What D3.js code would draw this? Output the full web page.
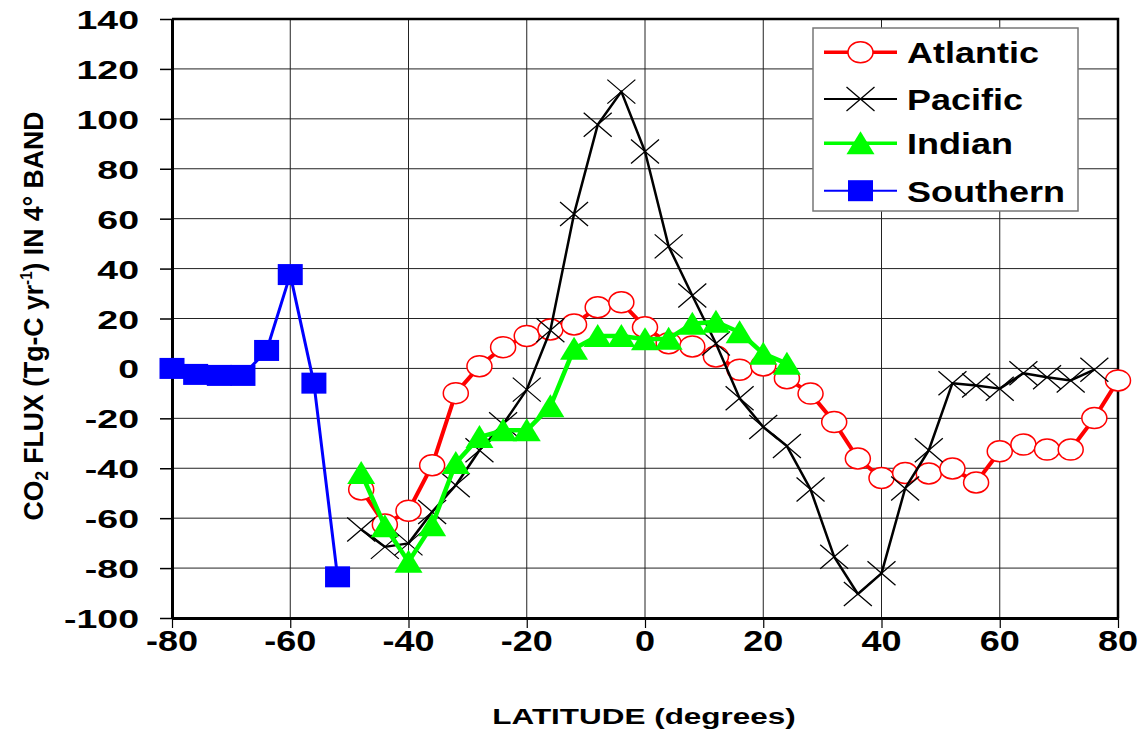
<!DOCTYPE html>
<html>
<head>
<meta charset="utf-8">
<script src="https://cdn.jsdelivr.net/npm/d3@7"></script>
<style>
  body { margin: 0; background: #fff; }
  svg text { font-family: "Liberation Sans", Arial, sans-serif; font-weight: bold; fill: #000; }
</style>
</head>
<body>
<svg id="chart" width="1145" height="736"></svg>
<script>
// values
let atlanticLat = [-48,-44,-40,-36,-32,-28,-24,-20,-16,-12,-8,-4,0,4,8,12,16,20,24,28,32,36,40,44,48,52,56,60,64,68,72,76,80]
let atlanticFlux = [-48.5,-62.5,-57,-38.8,-9.9,0.9,8.5,13,15.6,17.6,24.5,26.5,16.5,10.1,8.8,4.8,-0.5,1.2,-3.9,-10.1,-21.5,-36.1,-43.9,-41.9,-42.1,-40.1,-45.7,-33.2,-30.5,-32.5,-32.5,-19.9,-4.8]

let pacificLat = [-48,-44,-40,-36,-32,-28,-24,-20,-16,-12,-8,-4,0,4,8,12,16,20,24,28,32,36,40,44,48,52,56,60,64,68,72,76]
let pacificFlux = [-64.5,-71.5,-70.1,-57.5,-46.8,-32.8,-22.4,-8.5,15.3,61.9,97.6,110.9,86.9,48.9,29.2,10,-12,-23.5,-31.1,-48.5,-75.5,-90.4,-82.1,-48.1,-32.8,-5.9,-6.8,-8.1,-1.9,-3.5,-4.8,-0.5]

let indianLat = [-48,-44,-40,-36,-32,-28,-24,-20,-16,-12,-8,-4,0,4,8,12,16,20,24]
let indianFlux = [-41.9,-63.2,-77.5,-62.8,-37.9,-27.5,-24.8,-24.8,-15.2,7.9,13,13,11.7,11.9,17.9,18.7,14.5,5.9,1.9]

let southernLat = [-80,-76,-72,-68,-64,-60,-56,-52]
let southernFlux = [0,-2.4,-2.8,-2.8,7.2,37.6,-5.9,-83.5]

let xTicks = [-80,-60,-40,-20,0,20,40,60,80]
let yTicks = [-100,-80,-60,-40,-20,0,20,40,60,80,100,120,140]

let seriesNames = ["Atlantic", "Pacific", "Indian", "Southern"]


let chart = d3.select("#chart")

let plotLeft = 172, plotRight = 1118, plotTop = 19, plotBottom = 618

let xscale = d3.scaleLinear().domain([-80, 80]).range([plotLeft, plotRight])
let yscale = d3.scaleLinear().domain([-100, 140]).range([plotBottom, plotTop])

// text that is stretched sideways like the original
function label(g, x, y, str, size, sx, anchor) {
    return g.append("text")
        .attr("transform", "translate(" + x + "," + y + ") scale(" + sx + ",1)")
        .attr("text-anchor", anchor)
        .style("font-size", size + "px")
        .text(str)
}

// grid
chart.append("g")
    .selectAll("line").data(yTicks.filter(d => d > -100 && d < 140))
    .enter().append("line")
    .attr("x1", plotLeft).attr("x2", plotRight)
    .attr("y1", d => yscale(d)).attr("y2", d => yscale(d))
    .attr("stroke", "#222").attr("stroke-width", 1)

chart.append("g")
    .selectAll("line").data(xTicks.filter(d => d > -80 && d < 80))
    .enter().append("line")
    .attr("y1", plotTop).attr("y2", plotBottom)
    .attr("x1", d => xscale(d)).attr("x2", d => xscale(d))
    .attr("stroke", "#222").attr("stroke-width", 1)

// frame top / right
chart.append("path")
    .attr("d", "M" + plotLeft + "," + plotTop + "H" + plotRight + "V" + plotBottom)
    .attr("fill", "none").attr("stroke", "#000").attr("stroke-width", 2.5)

// axes
let xAxis = chart.append("g")
    .attr("transform", "translate(0," + plotBottom + ")")
    .call(d3.axisBottom(xscale).tickValues(xTicks).tickSize(10).tickSizeOuter(0).tickFormat(""))
let yAxis = chart.append("g")
    .attr("transform", "translate(" + plotLeft + ",0)")
    .call(d3.axisLeft(yscale).tickValues(yTicks).tickSize(12).tickSizeOuter(0).tickFormat(""))

xAxis.select(".domain").attr("stroke-width", 3)
yAxis.select(".domain").attr("stroke-width", 3)
xAxis.selectAll(".tick line").attr("stroke-width", 1.2)
yAxis.selectAll(".tick line").attr("stroke-width", 1.5)

let labels = chart.append("g")
xTicks.forEach(function (d) {
    label(labels, xscale(d), 651, d, 30, 1.2, "middle")
})
yTicks.forEach(function (d) {
    label(labels, 139, yscale(d) + 10, d, 25, 1.5, "end")
})

label(chart, 644, 724, "LATITUDE (degrees)", 22, 1.43, "middle")

let ytitle = chart.append("text")
    .attr("transform", "translate(43,316) rotate(-90) scale(0.95,1)")
    .attr("text-anchor", "middle")
    .style("font-size", "28px")
ytitle.append("tspan").text("CO")
ytitle.append("tspan").style("font-size", "18px").attr("dy", 5).text("2")
ytitle.append("tspan").attr("dy", -5).text(" FLUX (Tg-C yr")
ytitle.append("tspan").style("font-size", "16px").attr("dy", -11).text("-1")
ytitle.append("tspan").attr("dy", 11).text(") IN 4\u00b0 BAND")

// markers
function drawMarker(g, kind, cx, cy) {
    if (kind == "circle") {
        g.append("ellipse").attr("cx", cx).attr("cy", cy).attr("rx", 12.5).attr("ry", 10.5)
            .attr("fill", "#fff").attr("stroke", "#ff0000").attr("stroke-width", 1.5)
    } else if (kind == "cross") {
        g.append("path")
            .attr("d", "M" + (cx - 14) + "," + (cy - 12) + "L" + (cx + 14) + "," + (cy + 12) +
                "M" + (cx - 14) + "," + (cy + 12) + "L" + (cx + 14) + "," + (cy - 12))
            .attr("stroke", "#000").attr("stroke-width", 1.3).attr("fill", "none")
    } else if (kind == "triangle") {
        g.append("path")
            .attr("d", "M" + cx + "," + (cy - 12) + "L" + (cx + 14) + "," + (cy + 11) + "L" + (cx - 14) + "," + (cy + 11) + "Z")
            .attr("fill", "#00ff00")
    } else {
        g.append("rect").attr("x", cx - 12.5).attr("y", cy - 10.5).attr("width", 25).attr("height", 21)
            .attr("fill", "#0000ff")
    }
}

let series = [
    { lat: atlanticLat, flux: atlanticFlux, color: "#ff0000", width: 4, marker: "circle", lw: 3.5 },
    { lat: pacificLat, flux: pacificFlux, color: "#000000", width: 2.5, marker: "cross", lw: 2 },
    { lat: indianLat, flux: indianFlux, color: "#00ff00", width: 4.5, marker: "triangle", lw: 3.5 },
    { lat: southernLat, flux: southernFlux, color: "#0000ff", width: 3, marker: "square", lw: 2 }
]

let line = d3.line().x(d => xscale(d[0])).y(d => yscale(d[1]))

series.forEach(function (s) {
    let pts = s.lat.map((d, i) => [d, s.flux[i]])
    let g = chart.append("g")
    g.append("path").datum(pts)
        .attr("d", line)
        .attr("fill", "none")
        .attr("stroke", s.color)
        .attr("stroke-width", s.width)
        .attr("stroke-linejoin", "round")
    pts.forEach(p => drawMarker(g, s.marker, xscale(p[0]), yscale(p[1])))
})

// legend
let legend = chart.append("g")
legend.append("rect")
    .attr("x", 813).attr("y", 28).attr("width", 265).attr("height", 183)
    .attr("fill", "#fff").attr("stroke", "#777").attr("stroke-width", 1.5)

let rowY = [52.3, 99, 143.3, 190.7]
series.forEach(function (s, i) {
    legend.append("line")
        .attr("x1", 824).attr("x2", 897).attr("y1", rowY[i]).attr("y2", rowY[i])
        .attr("stroke", s.color).attr("stroke-width", s.lw)
    drawMarker(legend, s.marker, 860.5, rowY[i])
    label(legend, 907, rowY[i] + 11, seriesNames[i], 30, 1.2, "start")
})
</script>
</body>
</html>
